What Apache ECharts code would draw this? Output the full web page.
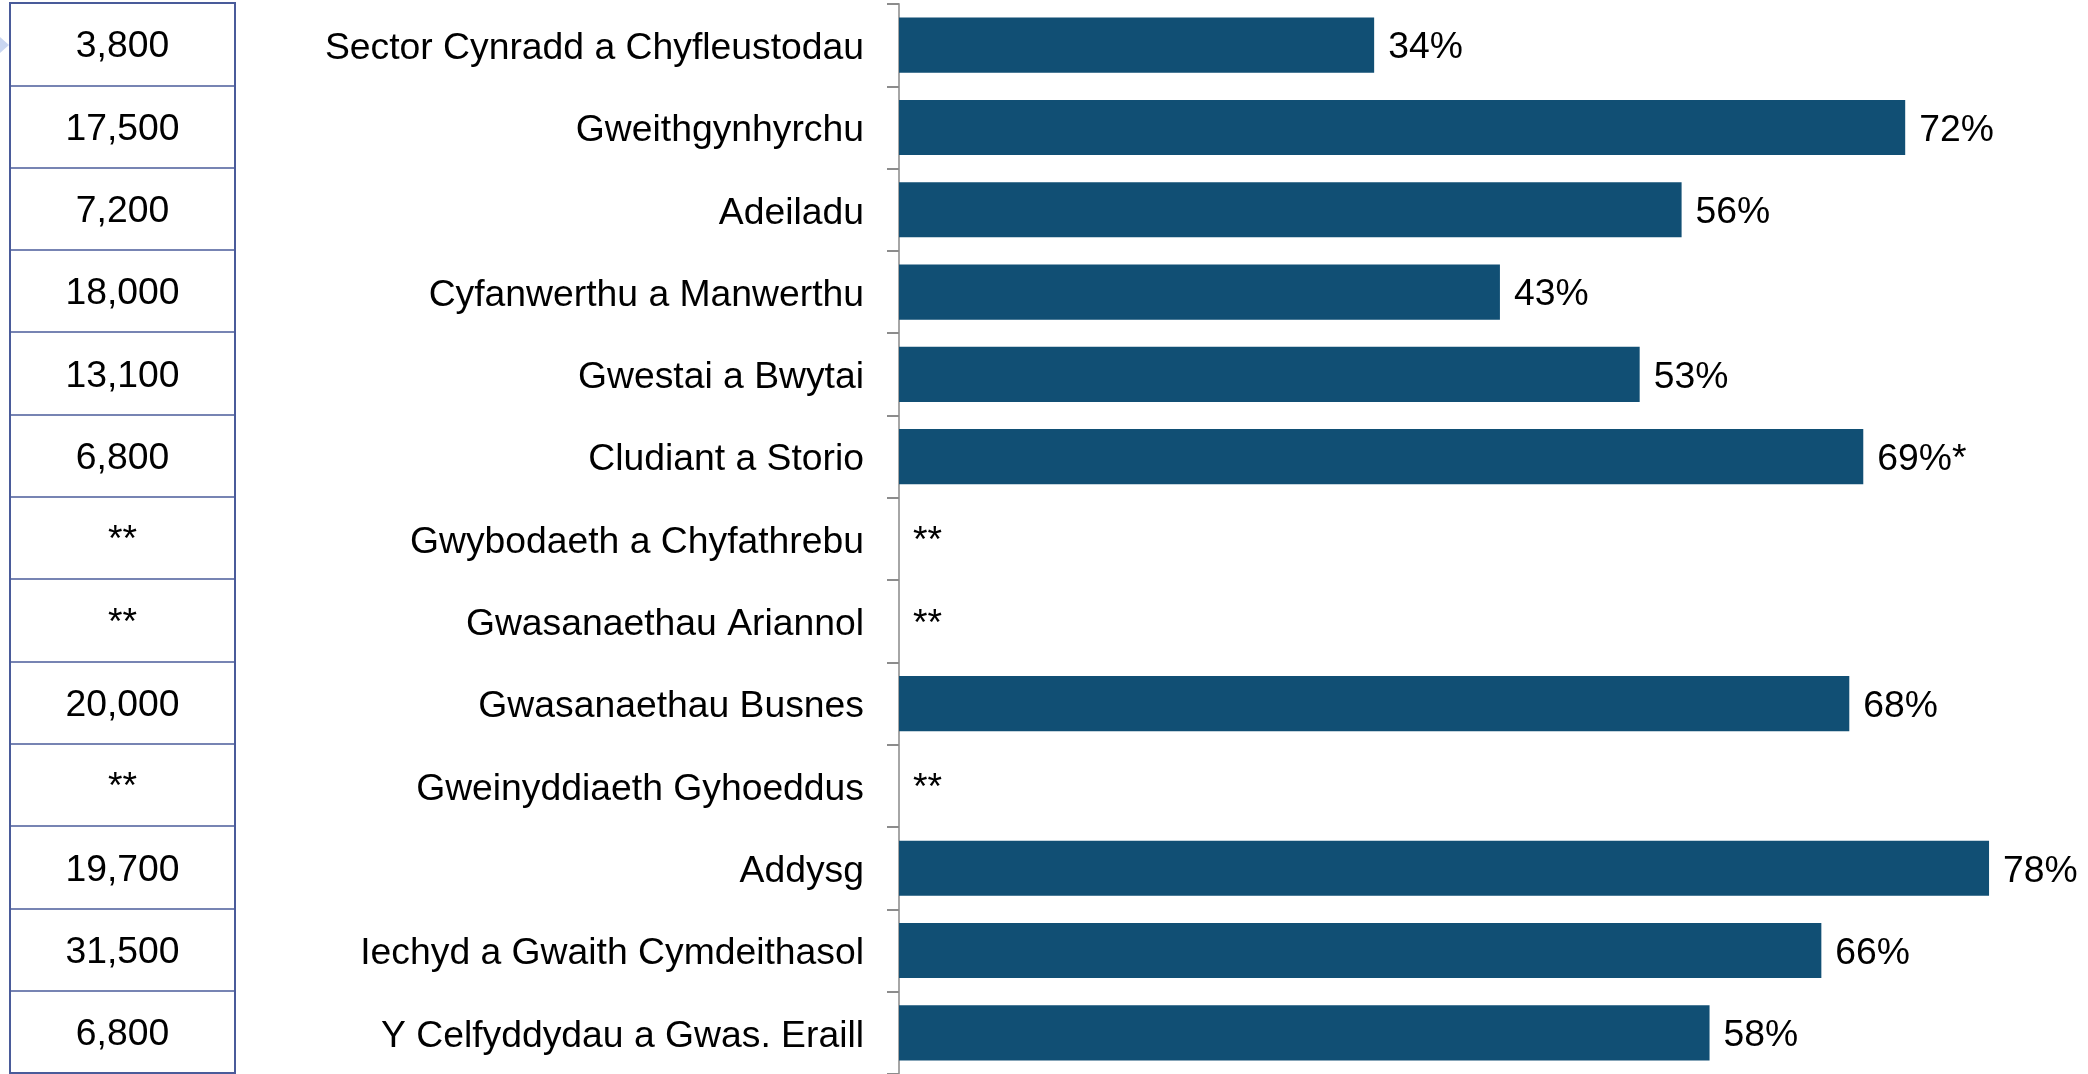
<!DOCTYPE html>
<html>
<head>
<meta charset="utf-8">
<script src="https://cdn.jsdelivr.net/npm/echarts@6/dist/echarts.min.js"></script>
<style>
    html, body { margin: 0; padding: 0; background: #fff; }
    #chart { width: 2088px; height: 1074px; }
</style>
</head>
<body>
<div id="chart"></div>
<script>
const sectors = [
    "Sector Cynradd a Chyfleustodau", "Gweithgynhyrchu", "Adeiladu",
    "Cyfanwerthu a Manwerthu", "Gwestai a Bwytai", "Cludiant a Storio",
    "Gwybodaeth a Chyfathrebu", "Gwasanaethau Ariannol", "Gwasanaethau Busnes",
    "Gweinyddiaeth Gyhoeddus", "Addysg", "Iechyd a Gwaith Cymdeithasol",
    "Y Celfyddydau a Gwas. Eraill",
];
// nifer (null = ** yn y tabl)
const counts = [3800, 17500, 7200, 18000, 13100, 6800, null, null, 20000, null, 19700, 31500, 6800];
// canran (null = **)
const percents = [34, 72, 56, 43, 53, 69, null, null, 68, null, 78, 66, 58];
const notes = ["", "", "", "", "", "*", "", "", "", "", "", "", ""];

const barColor = "#114f74";
const tableColor = "#4a5b9a";
const font = "'Liberation Sans', Arial, sans-serif";
const fontSize = 37.3;

const chart = echarts.init(document.getElementById("chart"));

const option = {
    animation: false,
    textStyle: { fontFamily: font },
    graphic: [
        {
            type: "polygon",
            shape: { points: [[0, 37], [9, 45], [0, 53]] },
            style: { fill: "#c9d6f1" },
        },
    ],
    grid: [
        // prif siart
        { left: 899, top: 4, width: 1118, height: 1072 },
        // tabl
        {
            left: 10, top: 3, width: 225, height: 1070,
            show: true, borderColor: tableColor, borderWidth: 2,
        },
    ],
    xAxis: [
        { gridIndex: 0, type: "value", min: 0, max: 80, show: false },
        { gridIndex: 1, type: "value", min: 0, max: 1, show: false },
    ],
    yAxis: [
        {
            gridIndex: 0,
            type: "category",
            inverse: true,
            data: sectors,
            axisLine: { lineStyle: { color: "#a6a6a6", width: 2 } },
            axisTick: { show: true, length: 12, lineStyle: { color: "#8c8c8c", width: 2 } },
            axisLabel: {
                margin: 35,
                fontSize: fontSize,
                color: "#000",
                fontFamily: font,
                formatter: (value) => `{l|${value}}`,
                rich: {
                    l: {
                        fontSize: fontSize,
                        color: "#000",
                        fontFamily: font,
                        padding: [7, 0, 0, 0],
                    },
                },
            },
        },
        {
            gridIndex: 1,
            type: "category",
            inverse: true,
            data: sectors,
            axisLine: { show: false },
            axisTick: { show: false },
            axisLabel: { show: false },
            splitLine: { show: true, lineStyle: { color: tableColor, width: 1.5 } },
        },
    ],
    series: [
        {
            type: "bar",
            xAxisIndex: 0,
            yAxisIndex: 0,
            barWidth: "67%",
            itemStyle: { color: barColor },
            label: {
                show: true,
                position: "right",
                distance: 14,
                offset: [0, 3],
                fontSize: fontSize,
                color: "#000",
                fontFamily: font,
                formatter: (p) => {
                    const v = percents[p.dataIndex];
                    return v === null ? "**" : `${v}%${notes[p.dataIndex]}`;
                },
            },
            data: percents.map((v) => (v === null ? 0 : v)),
        },
        {
            type: "scatter",
            xAxisIndex: 1,
            yAxisIndex: 1,
            symbolSize: 1,
            itemStyle: { color: "#fff", opacity: 1 },
            label: {
                show: true,
                position: "inside",
                offset: [0, 3],
                fontSize: fontSize,
                color: "#000",
                textBorderWidth: 0,
                fontFamily: font,
                formatter: (p) => {
                    const v = counts[p.dataIndex];
                    return v === null ? "**" : v.toLocaleString("en-US");
                },
            },
            data: counts.map((v, i) => [0.5, i]),
        },
    ],
};

chart.setOption(option);
</script>
</body>
</html>
